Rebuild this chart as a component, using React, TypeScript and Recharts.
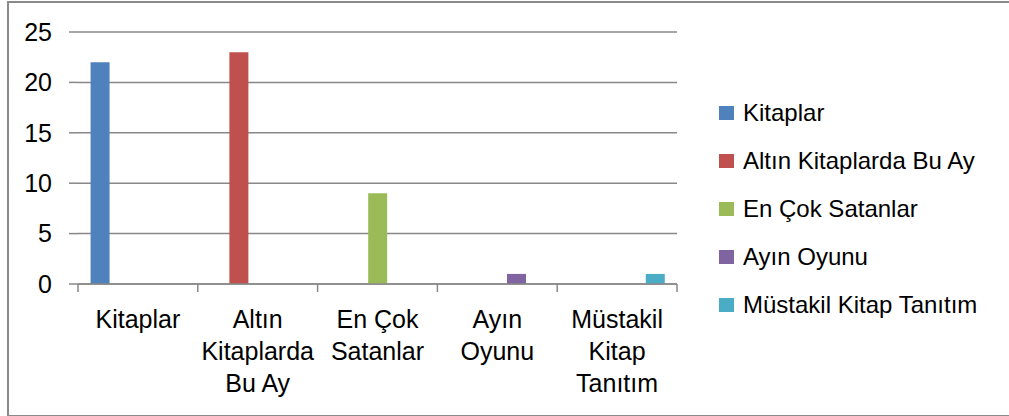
import { BarChart, Bar, XAxis, YAxis, CartesianGrid } from 'recharts'

const categories = ['Kitaplar', 'Altın Kitaplarda Bu Ay', 'En Çok Satanlar', 'Ayın Oyunu', 'Müstakil Kitap Tanıtım']
const tickLines = [['Kitaplar'], ['Altın', 'Kitaplarda', 'Bu Ay'], ['En Çok', 'Satanlar'], ['Ayın', 'Oyunu'], ['Müstakil', 'Kitap', 'Tanıtım']]

const kitaplar = [22, 0, 0, 0, 0]
const altinKitaplarda = [0, 23, 0, 0, 0]
const enCokSatanlar = [0, 0, 9, 0, 0]
const ayinOyunu = [0, 0, 0, 1, 0]
const mustakilKitap = [0, 0, 0, 0, 1]

const yTicks = [0, 5, 10, 15, 20, 25]

const series = [
  { key: 'Kitaplar', values: kitaplar, color: '#4F81BD' },
  { key: 'Altın Kitaplarda Bu Ay', values: altinKitaplarda, color: '#C0504D' },
  { key: 'En Çok Satanlar', values: enCokSatanlar, color: '#9BBB59' },
  { key: 'Ayın Oyunu', values: ayinOyunu, color: '#8064A2' },
  { key: 'Müstakil Kitap Tanıtım', values: mustakilKitap, color: '#4BACC6' },
]

const data = categories.map((name, i) => {
  const row: Record<string, string | number> = { name }
  series.forEach((s) => {
    row[s.key] = s.values[i]
  })
  return row
})

const W = 1009
const H = 416
const MARGIN = { top: 32, right: 332, bottom: 32, left: 0 }
const Y_AXIS_W = 78
const X_AXIS_H = 100
const HALF_BAND = (W - MARGIN.right - MARGIN.left - Y_AXIS_W) / categories.length / 2

const FONT = '"Liberation Sans", Arial, sans-serif'
const GRID = '#888888'

function CategoryTick(props: any) {
  const { x, y, index } = props
  const lines = tickLines[index] || []
  return (
    <g>
      <line x1={x - HALF_BAND} x2={x - HALF_BAND} y1={y} y2={y + 8} stroke={GRID} strokeWidth={1.5} />
      {index === categories.length - 1 && (
        <line x1={x + HALF_BAND} x2={x + HALF_BAND} y1={y} y2={y + 8} stroke={GRID} strokeWidth={1.5} />
      )}
      <text x={x} y={y + 44} textAnchor="middle" fontSize={25} fontFamily={FONT} fill="#000">
        {lines.map((l, i) => (
          <tspan key={i} x={x} dy={i === 0 ? 0 : 32}>
            {l}
          </tspan>
        ))}
      </text>
    </g>
  )
}

// legend drawn as plain html so it does not eat into the plot area
function SideLegend() {
  return (
    <div style={{ position: 'absolute', left: 719, top: 89, fontFamily: FONT, fontSize: 24, color: '#000' }}>
      {series.map((s) => (
        <div key={s.key} style={{ height: 48, display: 'flex', alignItems: 'center', whiteSpace: 'nowrap' }}>
          <span style={{ display: 'inline-block', width: 15, height: 14, background: s.color, marginRight: 9 }} />
          <span>{s.key}</span>
        </div>
      ))}
    </div>
  )
}

export default function App() {
  return (
    <div style={{ position: 'absolute', left: 0, top: 0, width: W, height: H, background: '#fff', overflow: 'hidden' }}>
      <div
        style={{
          position: 'absolute',
          left: 7,
          top: 1,
          width: W,
          height: 412,
          borderLeft: '2px solid #8a8a8a',
          borderTop: '2px solid #8a8a8a',
          borderBottom: '2px solid #8a8a8a',
        }}
      />
      <div style={{ position: 'absolute', left: 0, top: 0 }}>
        <BarChart width={W} height={H} data={data} margin={MARGIN} barCategoryGap="10.5%" barGap={0}>
          <CartesianGrid vertical={false} stroke={GRID} strokeWidth={1.5} />
          <XAxis
            dataKey="name"
            height={X_AXIS_H}
            axisLine={{ stroke: GRID, strokeWidth: 1.5 }}
            tickLine={false}
            tickSize={0}
            tickMargin={0}
            interval={0}
            tick={<CategoryTick />}
          />
          <YAxis
            width={Y_AXIS_W}
            domain={[0, 25]}
            ticks={yTicks}
            axisLine={false}
            tickLine={{ stroke: GRID, strokeWidth: 1.5 }}
            tickSize={9}
            tickMargin={17}
            tick={{ fontSize: 25, fontFamily: FONT, fill: '#000' }}
          />
          {series.map((s) => (
            <Bar key={s.key} dataKey={s.key} fill={s.color} isAnimationActive={false} />
          ))}
        </BarChart>
      </div>
      <SideLegend />
    </div>
  )
}
